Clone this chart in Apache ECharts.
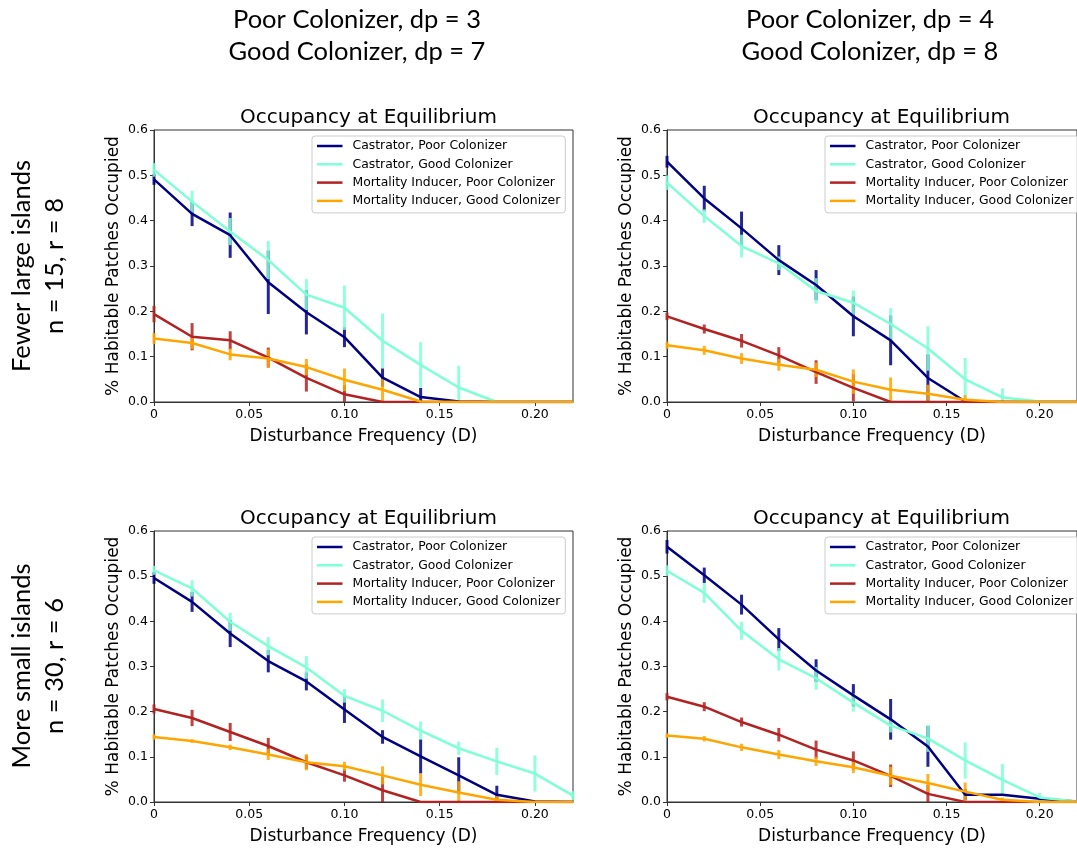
<!DOCTYPE html>
<html>
<head>
<meta charset="utf-8">
<script src="https://cdn.jsdelivr.net/npm/echarts@6/dist/echarts.min.js"></script>
<style>
html,body{margin:0;padding:0;background:#fff;}
#chart{width:1077px;height:848px;}
</style>
</head>
<body>
<div id="chart"></div>
<script>
// ---------- DATA ----------
const xValues = [0, 0.02, 0.04, 0.06, 0.08, 0.10, 0.12, 0.14, 0.16, 0.18, 0.20, 0.22];
const seriesNames = ['Castrator, Poor Colonizer', 'Castrator, Good Colonizer', 'Mortality Inducer, Poor Colonizer', 'Mortality Inducer, Good Colonizer'];
const headerTexts = [['Poor Colonizer, dp = 3', 'Good Colonizer, dp = 7'], ['Poor Colonizer, dp = 4', 'Good Colonizer, dp = 8']];
const rowLabels = [['Fewer large islands', 'n = 15, r = 8'], ['More small islands', 'n = 30, r = 6']];
const panelTitle = 'Occupancy at Equilibrium';
const xAxisName = 'Disturbance Frequency (D)';
const yAxisName = '% Habitable Patches Occupied';

// Panel 1 (top-left)
const p1CastPoor = [0.491, 0.415, 0.368, 0.264, 0.198, 0.143, 0.054, 0.011, 0.001, 0, 0, 0];
const p1CastPoorErr = [0.012, 0.027, 0.05, 0.07, 0.049, 0.022, 0.02, 0.02, 0, 0, 0, 0];
const p1CastGood = [0.512, 0.442, 0.376, 0.313, 0.237, 0.208, 0.135, 0.082, 0.032, 0, 0, 0];
const p1CastGoodErr = [0.015, 0.024, 0.03, 0.042, 0.034, 0.049, 0.06, 0.05, 0.048, 0, 0, 0];
const p1MortPoor = [0.194, 0.144, 0.136, 0.098, 0.053, 0.017, 0, 0, 0, 0, 0, 0];
const p1MortPoorErr = [0.018, 0.03, 0.02, 0.022, 0.03, 0.02, 0, 0, 0, 0, 0, 0];
const p1MortGood = [0.140, 0.130, 0.105, 0.096, 0.077, 0.049, 0.027, 0.001, 0, 0, 0, 0];
const p1MortGoodErr = [0.012, 0.013, 0.013, 0.02, 0.018, 0.025, 0.025, 0, 0, 0, 0, 0];

// Panel 2 (top-right)
const p2CastPoor = [0.530, 0.449, 0.383, 0.313, 0.258, 0.189, 0.136, 0.053, 0.001, 0, 0, 0];
const p2CastPoorErr = [0.013, 0.028, 0.037, 0.033, 0.033, 0.044, 0.055, 0.052, 0, 0, 0, 0];
const p2CastGood = [0.484, 0.410, 0.344, 0.306, 0.245, 0.219, 0.172, 0.118, 0.050, 0.010, 0.001, 0];
const p2CastGoodErr = [0.016, 0.015, 0.025, 0.015, 0.028, 0.027, 0.035, 0.049, 0.047, 0.02, 0, 0];
const p2MortPoor = [0.189, 0.161, 0.135, 0.103, 0.066, 0.031, 0, 0, 0, 0, 0, 0];
const p2MortPoorErr = [0.008, 0.01, 0.015, 0.018, 0.026, 0.03, 0, 0, 0, 0, 0, 0];
const p2MortGood = [0.125, 0.114, 0.096, 0.082, 0.071, 0.045, 0.027, 0.018, 0.005, 0, 0, 0];
const p2MortGoodErr = [0.008, 0.01, 0.012, 0.013, 0.016, 0.027, 0.027, 0.02, 0.01, 0, 0, 0];

// Panel 3 (bottom-left)
const p3CastPoor = [0.496, 0.443, 0.373, 0.312, 0.267, 0.205, 0.144, 0.101, 0.059, 0.016, 0.001, 0];
const p3CastPoorErr = [0.013, 0.022, 0.03, 0.025, 0.02, 0.03, 0.015, 0.038, 0.04, 0.02, 0, 0];
const p3CastGood = [0.513, 0.473, 0.399, 0.345, 0.298, 0.235, 0.202, 0.158, 0.119, 0.090, 0.063, 0.014];
const p3CastGoodErr = [0.01, 0.018, 0.02, 0.02, 0.025, 0.015, 0.025, 0.02, 0.015, 0.03, 0.04, 0.01];
const p3MortPoor = [0.206, 0.186, 0.155, 0.124, 0.088, 0.059, 0.026, 0, 0, 0, 0, 0];
const p3MortPoorErr = [0.01, 0.018, 0.02, 0.018, 0.015, 0.014, 0.03, 0, 0, 0, 0, 0];
const p3MortGood = [0.144, 0.135, 0.121, 0.105, 0.088, 0.079, 0.059, 0.038, 0.021, 0.005, 0, 0];
const p3MortGoodErr = [0.006, 0.004, 0.006, 0.012, 0.018, 0.01, 0.02, 0.025, 0.025, 0.01, 0, 0];

// Panel 4 (bottom-right)
const p4CastPoor = [0.565, 0.502, 0.437, 0.360, 0.291, 0.236, 0.183, 0.123, 0.016, 0.016, 0.007, 0.001];
const p4CastPoorErr = [0.015, 0.017, 0.022, 0.025, 0.025, 0.025, 0.045, 0.045, 0.012, 0, 0, 0];
const p4CastGood = [0.512, 0.463, 0.379, 0.316, 0.274, 0.220, 0.169, 0.141, 0.092, 0.049, 0.010, 0.001];
const p4CastGoodErr = [0.012, 0.022, 0.02, 0.025, 0.025, 0.02, 0.015, 0.03, 0.04, 0.035, 0.01, 0];
const p4MortPoor = [0.233, 0.211, 0.177, 0.149, 0.116, 0.092, 0.058, 0.018, 0, 0, 0, 0];
const p4MortPoorErr = [0.008, 0.01, 0.01, 0.015, 0.02, 0.02, 0.025, 0.02, 0, 0, 0, 0];
const p4MortGood = [0.147, 0.140, 0.121, 0.105, 0.090, 0.077, 0.058, 0.042, 0.023, 0.005, 0, 0];
const p4MortGoodErr = [0.005, 0.006, 0.008, 0.01, 0.01, 0.013, 0.02, 0.02, 0.02, 0.005, 0, 0];

// ---------- STYLE / LAYOUT ----------
const colors = ['#000080', '#7FFFD4', '#B22222', '#FFA500'];
const FONT = 'DejaVu Sans';
const HEAD_FONT = 'Lato';
const panels = [
  { means: [p1CastPoor, p1CastGood, p1MortPoor, p1MortGood], errs: [p1CastPoorErr, p1CastGoodErr, p1MortPoorErr, p1MortGoodErr], left: 154, top: 130, height: 272 },
  { means: [p2CastPoor, p2CastGood, p2MortPoor, p2MortGood], errs: [p2CastPoorErr, p2CastGoodErr, p2MortPoorErr, p2MortGoodErr], left: 667, top: 130, height: 272 },
  { means: [p3CastPoor, p3CastGood, p3MortPoor, p3MortGood], errs: [p3CastPoorErr, p3CastGoodErr, p3MortPoorErr, p3MortGoodErr], left: 154, top: 531, height: 271 },
  { means: [p4CastPoor, p4CastGood, p4MortPoor, p4MortGood], errs: [p4CastPoorErr, p4CastGoodErr, p4MortPoorErr, p4MortGoodErr], left: 667, top: 531, height: 271 }
];
const PANEL_W = 419;

const grids = [], xAxes = [], yAxes = [], series = [], titles = [], legends = [];
panels.forEach((p, i) => {
  grids.push({ left: p.left, top: p.top, width: PANEL_W, height: p.height, show: true, borderColor: '#333', borderWidth: 1, backgroundColor: 'transparent' });
  xAxes.push({
    gridIndex: i, type: 'value', min: 0, max: 0.22, interval: 0.05,
    name: xAxisName, nameLocation: 'middle', nameGap: 26,
    nameTextStyle: { fontFamily: FONT, fontSize: 17, color: '#000' },
    axisLine: { show: true, lineStyle: { color: '#333', width: 1 } },
    axisTick: { show: true, length: 4, lineStyle: { color: '#333' } },
    splitLine: { show: false },
    axisLabel: {
      fontFamily: FONT, fontSize: 12.5, color: '#000', margin: 6, showMaxLabel: false,
      formatter: v => {
        if (Math.abs(v) < 1e-9) return '0';
        const k = v / 0.05;
        return Math.abs(k - Math.round(k)) < 1e-6 ? v.toFixed(2) : '';
      }
    }
  });
  yAxes.push({
    gridIndex: i, type: 'value', min: 0, max: 0.6, interval: 0.1,
    name: yAxisName, nameLocation: 'middle', nameGap: 32,
    nameTextStyle: { fontFamily: FONT, fontSize: 17, color: '#000' },
    axisLine: { show: true, lineStyle: { color: '#333', width: 1 } },
    axisTick: { show: true, length: 4, lineStyle: { color: '#333' } },
    splitLine: { show: false },
    axisLabel: { fontFamily: FONT, fontSize: 12.5, color: '#000', margin: 6, formatter: v => v.toFixed(1) }
  });
  titles.push({
    text: panelTitle, left: p.left + PANEL_W / 2, top: p.top - 27, textAlign: 'center',
    textStyle: { fontFamily: FONT, fontSize: 20, fontWeight: 'normal', color: '#000' }
  });
  legends.push({
    data: seriesNames, orient: 'vertical', left: p.left + 158, top: p.top + 6,
    icon: 'rect', itemWidth: 25.5, itemHeight: 2.5, itemGap: 4.3,
    padding: [3, 5, 5, 5], borderColor: '#cccccc', borderWidth: 1, borderRadius: 3,
    backgroundColor: 'rgba(255,255,255,0.8)', selectedMode: false,
    textStyle: { fontFamily: FONT, fontSize: 12.4, color: '#000', lineHeight: 14, padding: [0, 0, 0, 5] }
  });
  p.means.forEach((m, s) => {
    series.push({
      type: 'line', name: seriesNames[s], xAxisIndex: i, yAxisIndex: i,
      data: xValues.map((x, k) => [x, m[k]]),
      showSymbol: false, symbol: 'none', lineStyle: { color: colors[s], width: 2.5 }, itemStyle: { color: colors[s] },
      animation: false, z: 2
    });
    const col = colors[s];
    series.push({
      type: 'custom', name: 'err' + i + '_' + s, xAxisIndex: i, yAxisIndex: i,
      data: xValues.map((x, k) => [x, m[k], p.errs[s][k]]),
      renderItem: function (params, api) {
        const x = api.value(0), y = api.value(1), e = api.value(2);
        if (!e) return { type: 'group', children: [] };
        const a = api.coord([x, Math.max(0, y - e)]);
        const b = api.coord([x, Math.min(0.6, y + e)]);
        return { type: 'line', shape: { x1: a[0], y1: a[1], x2: b[0], y2: b[1] }, style: { stroke: col, lineWidth: 3, opacity: 0.85 } };
      },
      animation: false, z: 2, silent: true
    });
  });
});

const graphics = [];
const headCenters = [357, 870];
headerTexts.forEach((lines, c) => {
  lines.forEach((t, r) => {
    graphics.push({ type: 'text', x: headCenters[c], y: 20 + r * 32, style: { text: t, fontFamily: HEAD_FONT, fontSize: 25.5, fill: '#000', textAlign: 'center', textVerticalAlign: 'middle' } });
  });
});
const rowCenters = [266, 666];
rowLabels.forEach((lines, r) => {
  lines.forEach((t, c) => {
    graphics.push({ type: 'text', x: 22 + c * 33, y: rowCenters[r], rotation: Math.PI / 2, style: { text: t, fontFamily: HEAD_FONT, fontSize: 25.5, fill: '#000', textAlign: 'center', textVerticalAlign: 'middle' } });
  });
});

const chart = echarts.init(document.getElementById('chart'), null, { renderer: 'canvas' });
chart.setOption({
  backgroundColor: '#fff',
  animation: false,
  title: titles,
  legend: legends,
  grid: grids,
  xAxis: xAxes,
  yAxis: yAxes,
  series: series,
  graphic: graphics
});
</script>
</body>
</html>
